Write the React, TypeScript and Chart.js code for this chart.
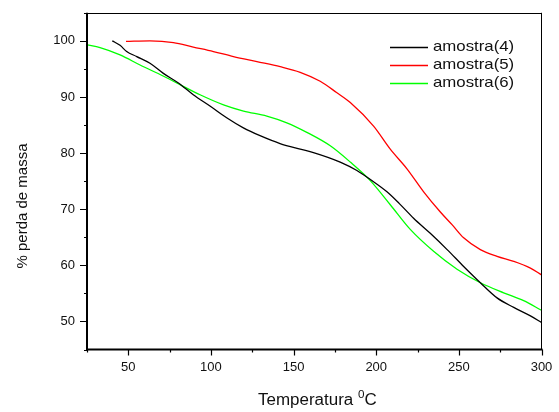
import React, { useEffect, useRef } from "react";
import { Chart, registerables } from "chart.js";

Chart.register(...registerables);

// ---- data ----
const temp4 = [40.3, 45, 49, 55.1, 63.1, 71.2, 80.3, 89.3, 99.4, 109.5, 119.6, 129.7, 141.8, 154, 162, 178.2, 188.3, 196.4, 206.5, 214, 222.6, 232.7, 242.9, 252.9, 263, 273.1, 283.2, 293.3, 300];
const mass4 = [100, 99.2, 98.1, 97.2, 96, 94.2, 92.5, 90.4, 88.4, 86.3, 84.5, 83.1, 81.7, 80.7, 80.1, 78.4, 76.9, 75.3, 73.1, 71.0, 68.4, 65.7, 62.8, 59.8, 56.9, 54.2, 52.5, 51, 49.8];

const temp5 = [48.6, 63.1, 77.3, 89.3, 101.5, 113.6, 127.8, 141.9, 154, 166.1, 176, 184.3, 198.4, 208.5, 218.6, 228.7, 238.8, 246, 252.9, 263, 273.1, 283.2, 293.3, 300];
const mass5 = [99.9, 100, 99.7, 98.9, 98.1, 97.2, 96.3, 95.4, 94.4, 92.8, 90.8, 89, 84.8, 80.7, 77.2, 73.1, 69.5, 67.2, 64.9, 62.8, 61.6, 60.7, 59.5, 58.3];

const temp6 = [25, 32.9, 45, 57.1, 69.2, 81.3, 93.4, 107.6, 119.7, 133.8, 145.9, 158, 172.2, 184.3, 196.4, 208.5, 220.6, 234.7, 248.9, 263, 277.1, 289.2, 300];
const mass6 = [99.3, 98.8, 97.5, 95.7, 94, 92.2, 90.4, 88.6, 87.5, 86.6, 85.4, 83.7, 81.3, 78.4, 75.1, 70.8, 66.4, 62.5, 59.3, 56.9, 55.1, 53.7, 52];

const seriesLabels = ["amostra(4)", "amostra(5)", "amostra(6)"];
const seriesColors = ["#000000", "#ff0000", "#00ff00"];

const xMin = 25;
const xMax = 300;
const xStep = 25;
const xLabelStep = 50;
const yMin = 45;
const yMax = 105;
const yStep = 5;
const yLabelStep = 10;

const xTitle = "Temperatura ";
const xTitleSup = "0";
const xTitleEnd = "C";
const yTitle = "% perda de massa";

const FONT = '"Liberation Sans", Arial, sans-serif';

const toPoints = (xs: number[], ys: number[]) => xs.map((x, i) => ({ x, y: ys[i] }));

const framePlugin = {
  id: "frame",
  afterDraw(chart: any) {
    const { ctx, chartArea } = chart;
    const { left, right, top, bottom } = chartArea;
    const xs = chart.scales.x;
    const ys = chart.scales.y;
    ctx.save();
    ctx.strokeStyle = "#000";
    // thin top/right border
    ctx.lineWidth = 1;
    ctx.beginPath();
    ctx.moveTo(left, Math.round(top) + 0.5);
    ctx.lineTo(right, Math.round(top) + 0.5);
    ctx.moveTo(Math.floor(right) + 0.5, top);
    ctx.lineTo(Math.floor(right) + 0.5, bottom);
    ctx.stroke();
    // thick left/bottom axes
    ctx.lineWidth = 2;
    ctx.beginPath();
    ctx.moveTo(left, top);
    ctx.lineTo(left, bottom + 1);
    ctx.moveTo(left - 1, bottom);
    ctx.lineTo(right + 1, bottom);
    ctx.stroke();
    // ticks
    ctx.lineWidth = 1.2;
    ctx.beginPath();
    xs.ticks.forEach((t: any) => {
      const px = Math.round(xs.getPixelForValue(t.value)) + 0.5;
      const len = t.value % xLabelStep === 0 ? 6 : 3;
      ctx.moveTo(px, bottom);
      ctx.lineTo(px, bottom + len);
    });
    ys.ticks.forEach((t: any) => {
      const py = Math.round(ys.getPixelForValue(t.value)) + 0.5;
      const len = t.value % yLabelStep === 0 ? 7 : 3;
      ctx.moveTo(left, py);
      ctx.lineTo(left - len, py);
    });
    ctx.stroke();

    // axis titles
    ctx.fillStyle = "#111";
    ctx.textBaseline = "alphabetic";
    ctx.textAlign = "left";
    ctx.save();
    ctx.translate(258, 405);
    ctx.scale(1.06, 1);
    ctx.font = `16px ${FONT}`;
    ctx.fillText(xTitle, 0, 0);
    let w = ctx.measureText(xTitle).width;
    ctx.font = `11px ${FONT}`;
    ctx.fillText(xTitleSup, w, -7);
    w += ctx.measureText(xTitleSup).width;
    ctx.font = `16px ${FONT}`;
    ctx.fillText(xTitleEnd, w, 0);
    ctx.restore();

    ctx.save();
    ctx.translate(27, 206);
    ctx.rotate(-Math.PI / 2);
    ctx.textAlign = "center";
    ctx.font = `15px ${FONT}`;
    ctx.fillText(yTitle, 0, 0);
    ctx.restore();

    // legend
    const rowY = [47, 65, 83];
    seriesLabels.forEach((label, i) => {
      const y = rowY[i];
      ctx.save();
      ctx.strokeStyle = seriesColors[i];
      ctx.lineWidth = 1.3;
      ctx.beginPath();
      ctx.moveTo(390, y + 0.5);
      ctx.lineTo(428, y + 0.5);
      ctx.stroke();
      ctx.translate(433, y);
      ctx.scale(1.12, 1);
      ctx.fillStyle = "#111";
      ctx.textBaseline = "middle";
      ctx.font = `15px ${FONT}`;
      ctx.fillText(label, 0, 0);
      ctx.restore();
    });
    ctx.restore();
  },
};

export default function App() {
  const ref = useRef<HTMLCanvasElement | null>(null);
  useEffect(() => {
    if (!ref.current) return;
    const datasets = [
      toPoints(temp4, mass4),
      toPoints(temp5, mass5),
      toPoints(temp6, mass6),
    ].map((data, i) => ({
      label: seriesLabels[i],
      data,
      borderColor: seriesColors[i],
      backgroundColor: seriesColors[i],
      borderWidth: 1.3,
      pointRadius: 0,
      fill: false,
      cubicInterpolationMode: "monotone" as const,
    }));
    const chart = new Chart(ref.current, {
      type: "line",
      data: { datasets },
      plugins: [framePlugin],
      options: {
        animation: false,
        responsive: false,
        devicePixelRatio: 1,
        layout: { padding: { left: 0, top: 9, right: 17.5, bottom: 0 } },
        plugins: { legend: { display: false }, tooltip: { enabled: false } },
        scales: {
          x: {
            type: "linear",
            min: xMin,
            max: xMax,
            grid: { display: true, drawOnChartArea: false, drawTicks: true, tickLength: 6, color: "rgba(0,0,0,0)" },
            border: { display: false },
            ticks: {
              stepSize: xStep,
              autoSkip: false,
              maxRotation: 0,
              padding: 4,
              color: "#111",
              font: { family: FONT, size: 13 },
              callback: (v: any) => (Number(v) % xLabelStep === 0 ? String(v) : ""),
            },
            afterFit: (s: any) => {
              s.height = 412 - 349.5;
            },
          },
          y: {
            type: "linear",
            min: yMin,
            max: yMax,
            grid: { display: true, drawOnChartArea: false, drawTicks: true, tickLength: 7, color: "rgba(0,0,0,0)" },
            border: { display: false },
            ticks: {
              stepSize: yStep,
              autoSkip: false,
              padding: 5,
              color: "#111",
              font: { family: FONT, size: 13 },
              callback: (v: any) =>
                Number(v) % yLabelStep === 0 && v > yMin && v < yMax ? String(v) : "",
            },
            afterFit: (s: any) => {
              s.width = 87;
            },
          },
        },
      },
    });
    return () => chart.destroy();
  }, []);
  return (
    <div style={{ position: "absolute", left: 0, top: 0, width: 559, height: 412, background: "#fff" }}>
      <canvas ref={ref} width={559} height={412} />
    </div>
  );
}
